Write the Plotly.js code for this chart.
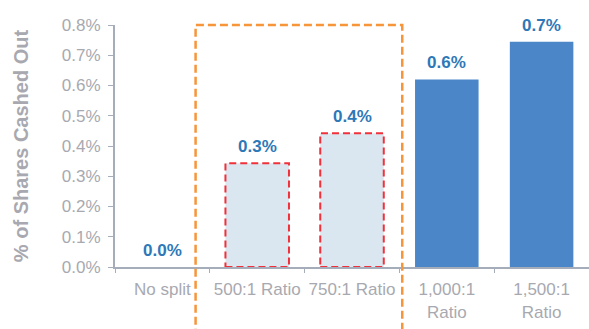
<!DOCTYPE html>
<html>
<head>
<meta charset="utf-8">
<script src="https://cdn.plot.ly/plotly-3.0.1.min.js"></script>
<style>
  html, body { margin: 0; padding: 0; background: #ffffff; }
  #chart { width: 589px; height: 329px; }
</style>
</head>
<body>
<div id="chart"></div>
<script>
// Share of shares cashed out under each reverse-split ratio
const categories = ['No split', '500:1 Ratio', '750:1 Ratio', '1,000:1<br>Ratio', '1,500:1<br>Ratio'];
const cashedOut = [0.0, 0.00343, 0.00442, 0.0062, 0.00745];
// Ratios under consideration are drawn as pale, outlined bars
const highlighted = [false, true, true, false, false];

const yTicks = [0, 0.001, 0.002, 0.003, 0.004, 0.005, 0.006, 0.007, 0.008];

const BLUE = '#4a86c8';
const PALE = '#dbe7f0';
const RED = '#f0303a';
const ORANGE = '#f7953b';
const GREY = '#a8a9b0';
const AXIS = '#a5adbb';
const LABEL = '#2e78b8';
const BAR_WIDTH = 0.67;

const trace = {
  type: 'bar',
  x: categories,
  y: cashedOut,
  width: BAR_WIDTH,
  marker: { color: highlighted.map(h => h ? PALE : BLUE), line: { width: 0 } },
  hoverinfo: 'skip',
  cliponaxis: false
};

function pct(v) {
  return (v * 100).toFixed(1) + '%';
}

// Value labels above each bar
const annotations = cashedOut.map((v, i) => ({
  x: categories[i],
  y: v,
  xref: 'x', yref: 'y',
  text: '<b>' + pct(v) + '</b>',
  showarrow: false,
  yanchor: 'bottom',
  yshift: 5,
  font: { family: 'Arial, Liberation Sans, sans-serif', size: 17, color: LABEL }
}));

// Dashed red outlines around the highlighted bars
const shapes = [];
cashedOut.forEach((v, i) => {
  if (!highlighted[i]) return;
  shapes.push({
    type: 'rect', xref: 'x', yref: 'y',
    x0: i - BAR_WIDTH / 2, x1: i + BAR_WIDTH / 2,
    y0: 0, y1: v,
    line: { color: RED, width: 2, dash: '7px,4px' },
    layer: 'above'
  });
});

// Orange dashed frame grouping the proposed ratios
shapes.push({
  type: 'rect', xref: 'paper', yref: 'paper',
  x0: 0.17, x1: 0.606, y0: -0.5, y1: 1,
  line: { color: ORANGE, width: 2.5, dash: '8px,4px' },
  layer: 'above'
});

const layout = {
  width: 589,
  height: 329,
  margin: { l: 115, r: 0, t: 25, b: 62, pad: 0 },
  paper_bgcolor: '#ffffff',
  plot_bgcolor: '#ffffff',
  showlegend: false,
  font: { family: 'Arial, Liberation Sans, sans-serif', color: GREY },
  xaxis: {
    type: 'category',
    showgrid: false,
    zeroline: false,
    showline: true,
    linecolor: AXIS,
    linewidth: 2,
    ticks: 'outside',
    tickson: 'boundaries',
    ticklen: 4,
    tickwidth: 1,
    tickcolor: AXIS,
    tickangle: 0,
    ticklabelstandoff: 6,
    tickfont: { size: 17, color: GREY },
    fixedrange: true
  },
  yaxis: {
    range: [0, 0.008],
    tickvals: yTicks,
    tickformat: '.1%',
    showgrid: false,
    zeroline: false,
    showline: true,
    linecolor: AXIS,
    linewidth: 2,
    ticks: 'outside',
    ticklen: 5,
    tickwidth: 1,
    tickcolor: AXIS,
    ticklabelstandoff: 4,
    tickfont: { size: 17, color: GREY },
    title: {
      text: '<b>% of Shares Cashed Out</b>',
      font: { size: 20, color: GREY },
      standoff: 28
    },
    fixedrange: true
  },
  annotations: annotations,
  shapes: shapes
};

Plotly.newPlot('chart', [trace], layout, { displayModeBar: false, staticPlot: true });
</script>
</body>
</html>
